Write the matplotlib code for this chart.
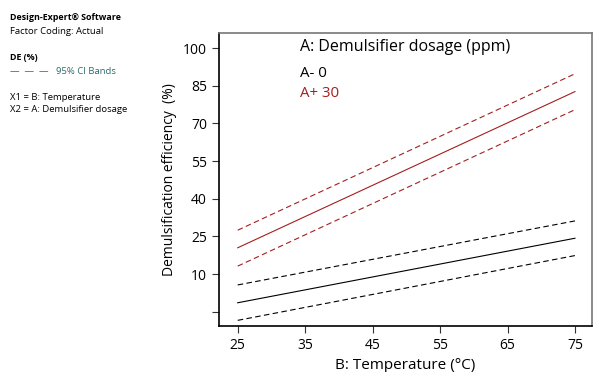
import matplotlib
matplotlib.use("Agg")
import matplotlib.pyplot as plt

plt.rcParams['font.family'] = ['Open Sans', 'DejaVu Sans']

temperature = [25, 75]
lo_center = [-1.4, 24.3]
lo_upper = [5.7, 31.2]
lo_lower = [-8.4, 17.4]
hi_center = [20.5, 82.7]
hi_upper = [27.5, 89.8]
hi_lower = [13.2, 75.5]
xticks = [25, 35, 45, 55, 65, 75]
yticks = [-5, 10, 25, 40, 55, 70, 85, 100]
ytick_labels = ['', '10', '25', '40', '55', '70', '85', '100']

RED = '#a31f1f'
fig = plt.figure(figsize=(5.93, 3.72), dpi=100)
ax = fig.add_axes([0.369, 0.124, 0.629, 0.787])

ax.plot(temperature, lo_center, color='black', lw=0.8)
ax.plot(temperature, lo_upper, color='black', lw=0.8, ls=(0, (5, 3)))
ax.plot(temperature, lo_lower, color='black', lw=0.8, ls=(0, (5, 3)))
ax.plot(temperature, hi_center, color=RED, lw=0.8)
ax.plot(temperature, hi_upper, color=RED, lw=0.8, ls=(0, (5, 3)))
ax.plot(temperature, hi_lower, color=RED, lw=0.8, ls=(0, (5, 3)))

ax.set_xlim(22.2, 77.5)
ax.set_ylim(-10.6, 106)
ax.set_xticks(xticks)
ax.set_yticks(yticks)
ax.set_yticklabels(ytick_labels)
ax.tick_params(labelsize=10, length=5, width=0.8, color='#333333')
for s in ax.spines.values():
    s.set_linewidth(1.2)
ax.spines['top'].set_color('#777777')
ax.spines['right'].set_color('#777777')

ax.set_xlabel('B: Temperature (°C)', fontsize=11)
ax.set_ylabel('Demulsification efficiency  (%)', fontsize=10)
ax.text(0.217, 0.953, 'A: Demulsifier dosage (ppm)', transform=ax.transAxes, fontsize=11.5, va='center')
ax.text(0.217, 0.863, 'A- 0', transform=ax.transAxes, fontsize=10.8, va='center', color='black')
ax.text(0.217, 0.795, 'A+ 30', transform=ax.transAxes, fontsize=10.8, va='center', color=RED)

fs = 6.8
fig.text(10/593, 1-18/372, 'Design-Expert® Software', fontsize=6.4, weight='bold', va='center')
fig.text(10/593, 1-32/372, 'Factor Coding: Actual', fontsize=fs, va='center')
fig.text(10/593, 1-58/372, 'DE (%)', fontsize=6.4, weight='bold', va='center')
fig.text(10/593, 1-72/372, '—  —  —   95% CI Bands', fontsize=fs, va='center', color='#2a6a6a')
fig.text(10/593, 1-97/372, 'X1 = B: Temperature', fontsize=fs, va='center')
fig.text(10/593, 1-110/372, 'X2 = A: Demulsifier dosage', fontsize=fs, va='center')

fig.savefig('out.png', dpi=100)
